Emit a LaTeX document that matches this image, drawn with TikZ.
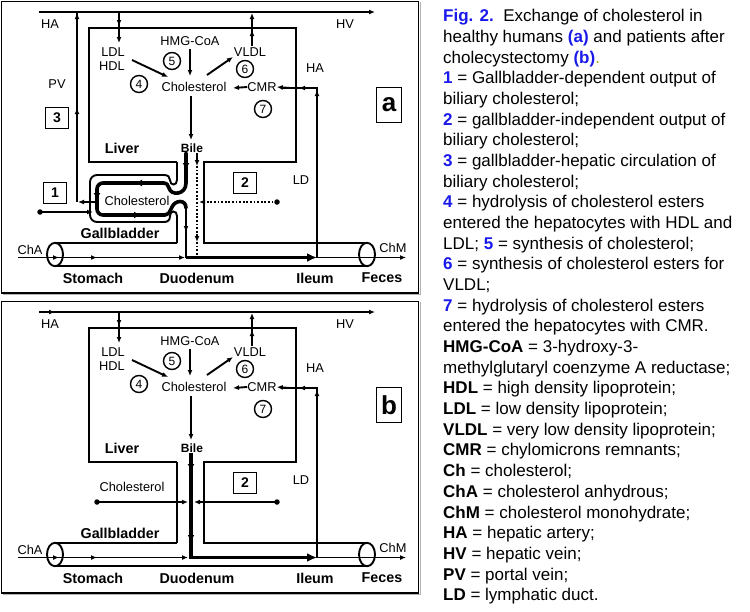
\documentclass[tikz,border=0pt]{standalone}
\usepackage{fontspec}
\setmainfont{Liberation Sans}
\usetikzlibrary{arrows.meta}
\definecolor{capblue}{RGB}{25,25,235}
\definecolor{dotcol}{RGB}{150,170,0}
\newcommand\bl[1]{\textcolor{capblue}{\textbf{#1}}}
\tikzset{
 ln/.style={line width=1.9pt},
 thk/.style={line width=3.6pt, line cap=round},
 ah/.style={-{Latex[length=6pt,width=5pt]}},
 ahT/.style={-{Latex[length=7pt,width=7pt]}},
 bigah/.style={-{Latex[length=10pt,width=9pt]}},
 lbl/.style={font=\fontsize{12.8}{14}\selectfont, inner sep=0pt},
 blbl/.style={font=\fontsize{14.3}{16}\selectfont\bfseries, inner sep=0pt},
 bilelbl/.style={font=\fontsize{12}{13}\selectfont\bfseries, inner sep=0pt},
 circ/.style={circle, draw, line width=1.4pt, minimum size=17pt, inner sep=0pt, font=\fontsize{12}{14}\selectfont},
 numbox/.style={draw, line width=1.4pt, minimum width=23pt, minimum height=21pt, inner sep=0pt, font=\fontsize{14}{16}\selectfont\bfseries},
 panbox/.style={draw, line width=1.4pt, minimum width=25pt, minimum height=35pt, inner sep=0pt, font=\fontsize{26}{28}\selectfont\bfseries},
 captxt/.style={anchor=base west, inner sep=0pt, font=\fontsize{17}{20}\selectfont},
 dotln/.style={line width=1.9pt, dash pattern=on 1.8pt off 1.8pt},
 blob/.style={circle, fill, inner sep=0pt, minimum size=5.5pt},
 panframe/.style={line width=1.5pt},
}
\newcommand\panelcommon{%
 \draw[gray!60, line width=1pt] (420,2) -- (420,294) -- (3,294);
 \draw[panframe] (1.5,1.5) rectangle (418.5,293);
 % hepatic artery / vein
 \node[lbl] (HA) at (50,24) {HA};
 \node[lbl] (HV) at (345,24) {HV};
 \coordinate (hal) at (39,12); \coordinate (har) at (375,12);
 \draw[ln,ah] (hal) -- (har);
 % liver outline
 \draw[ln] (177,162) -- (89,162) -- (89,28) -- (296,28) -- (296,162) -- (204,162) -- (204,243) -- (367,243);
 \draw[ln] (177,243) -- (55,243);
 % labels inside liver
 \node[lbl] (LDL) at (113,52) {LDL};
 \node[lbl] (HDL) at (112,66) {HDL};
 \node[lbl] (HMG) at (190,41) {HMG-CoA};
 \node[lbl] (Chol) at (194,87) {Cholesterol};
 \node[lbl] (VLDL) at (250,52) {VLDL};
 \node[lbl] (CMR) at (262,87) {CMR};
 \node[lbl] (HAr) at (315,68) {HA};
 \node[circ] (c4) at (139,84) {4};
 \node[circ] (c5) at (172,61) {5};
 \node[circ] (c6) at (245,69) {6};
 \node[circ] (c7) at (263,109) {7};
 \node[blbl] (Liver) at (122,148) {Liver};
 \node[bilelbl] (Bile) at (192,148) {Bile};
 \node[blbl] (Gall) at (120,233) {Gallbladder};
 % arrows in liver
 \coordinate (ldlin) at (119,43);
 \draw[ln,ah] (119,12) -- (ldlin);
 \draw[ln,ah] (119,18) -- (119,26);
 \coordinate (vldlout) at (252,46);
 \draw[ln,ah] (vldlout) -- (252,13);
 \draw[ln,ah] (252,38) -- (252,30);
 \draw[ln,ah] (132,60) -- (168,77);
 \draw[ln,ah] (190,49) -- (190,76);
 \draw[ln,ah] (207,75) -- (233,57);
 \draw[ln,ah] (CMR.west) -- (233,88);
 \draw[ln,ah] (191,96) -- (191,140);
 % lymphatic duct
 \node[lbl] (LD) at (301,180) {LD};
 \draw[ln] (317,257.5) -- (317,88) -- (282,88);
 \draw[ln,ah] (317,100) -- (317,90);
 \draw[ln,ah] (310,88) -- (299,88);
 \draw[ln,ah] (290,88) -- (CMR.east);
 \node[numbox] (n2) at (245,183) {2};
 % intestine tube
 \draw[ln] (55,266) -- (367,266);
 \draw[ln] (55,254.5) ellipse [x radius=8, y radius=11.7];
 \draw[ln] (367,254.5) ellipse [x radius=8, y radius=11.7];
 \node[lbl] (ChA) at (30,250) {ChA};
 \node[lbl] (ChM) at (393,248) {ChM};
 \node[blbl] (Stom) at (93,278) {Stomach};
 \node[blbl] (Duod) at (197,278) {Duodenum};
 \node[blbl] (Ileum) at (315,278) {Ileum};
 \node[blbl] (Feces) at (382,278) {Feces};
 \coordinate (chin) at (18,257.5);
 \coordinate (chout) at (406,257.5);
 \draw[ln,ah] (317,257.5) -- (chout);
 \draw[ln,ah] (50,257.5) -- (59,257.5);
 \draw[ln,ah] (88,257.5) -- (97,257.5);
}
\begin{document}
\begin{tikzpicture}[x=1pt,y=-1pt]
\useasboundingbox (0,0) rectangle (750,611);
\fill[white] (0,0) rectangle (750,611);
% ================= panel a
\begin{scope}[name prefix=a-]
 \panelcommon
 \node[panbox] (pa) at (389,105) {a};
 \node[lbl] (PV) at (57,84) {PV};
 \node[numbox] (n3) at (57,118) {3};
 \node[numbox] (n1) at (55,193) {1};
 % portal vein
 \draw[ln] (77,202) -- (77,12);
 \draw[ln,ah] (77,24) -- (77,13);
 \draw[ln,ah] (77,118) -- (77,108);
 \draw[ln,ah] (97,202) -- (78,202);
 \node[blob] (d1) at (40,212) {};
 \draw[ln,ah] (d1.center) -- (93,212);
 % gallbladder outer contour
 \draw[ln] (177,162) -- (177,180) .. controls (177,186) and (170,186) .. (170,180) .. controls (170,177) and (168,175) .. (164,175);
 \draw[ln, rounded corners=7pt] (165,175) -- (90,175) -- (90,222) -- (165,222);
 \draw[ln] (164,222) .. controls (168,222) and (170,220) .. (170,216) .. controls (170,210) and (177,210) .. (177,216) -- (177,243);
 \node[lbl] (GCh) at (137,201) {Cholesterol};
 % inner thick loop
 \draw[thk] (186,153) -- (186,183) .. controls (186,195) and (171,196) .. (169,188) .. controls (168,185) and (167,183) .. (163,183);
 \draw[thk, rounded corners=6pt] (164,183) -- (97,183) -- (97,215) -- (165,215);
 \draw[thk] (164,215) .. controls (169,215) and (170,211) .. (172,207) .. controls (175,200) and (186,199) .. (186,208);
 \draw[ln] (186,207) -- (186,257.5);
 \draw[thk,ahT] (186,160) -- (186,170);
 \draw[thk,ahT] (146,183) -- (135,183);
 \draw[thk,ahT] (97,190) -- (97,200);
 \draw[thk,ahT] (130,215) -- (141,215);
 \draw[ln,ah] (186,222) -- (186,232);
 % bile dotted (gallbladder-independent)
 \draw[ln,ah] (197,153) -- (197,166);
 \draw[dotln,ah] (197,166) -- (197,242);
 \draw[dotln] (197,242) -- (197,257.5);
 \node[blob] (d2) at (277,202) {};
 \draw[dotln,ah] (d2.center) -- (199,202);
 % main stream
 \draw[ln,ah] (chin) -- (185,257.5);
 \draw[thk,line cap=butt,bigah] (186,257.5) -- (317,257.5);
\end{scope}
% ================= panel b
\begin{scope}[shift={(0,300)}, name prefix=b-]
 \panelcommon
 \node[panbox] (pb) at (389,105) {b};
 \draw[ln,ah] (45,12) -- (55,12);
 \draw[ln] (177,162) -- (177,243);
 \node[lbl] (GCh) at (132,187) {Cholesterol};
 \draw[thk,line cap=butt] (191,153) -- (191,257.5);
 \draw[thk,ahT] (191,160) -- (191,171);
 \draw[thk,ahT] (191,231) -- (191,242);
 \node[blob] (d3) at (97,202) {};
 \draw[ln,ah] (d3.center) -- (188,202);
 \node[blob] (d4) at (277,202) {};
 \draw[ln,ah] (d4.center) -- (194,202);
 \draw[ln,ah] (chin) -- (188,257.5);
 \draw[thk,line cap=butt,bigah] (189,257.5) -- (317,257.5);
\end{scope}
% ================= caption
\foreach \capline [count=\i from 0] in {
 {\bl{Fig. 2.}\ \ Exchange of cholesterol in},
 {healthy humans \bl{(a)} and patients after},
 {cholecystectomy \bl{(b)}\textcolor{dotcol}{.}},
 {\bl{1} = Gallbladder-dependent output of},
 {biliary cholesterol;},
 {\bl{2} = gallbladder-independent output of},
 {biliary cholesterol;},
 {\bl{3} = gallbladder-hepatic circulation of},
 {biliary cholesterol;},
 {\bl{4} = hydrolysis of cholesterol esters},
 {entered the hepatocytes with HDL and},
 {LDL; \bl{5} = synthesis of cholesterol;},
 {\bl{6} = synthesis of cholesterol esters for},
 {VLDL;},
 {\bl{7} = hydrolysis of cholesterol esters},
 {entered the hepatocytes with CMR.},
 {\textbf{HMG-CoA} = 3-hydroxy-3-},
 {methylglutaryl coenzyme A reductase;},
 {\textbf{HDL} = high density lipoprotein;},
 {\textbf{LDL} = low density lipoprotein;},
 {\textbf{VLDL} = very low density lipoprotein;},
 {\textbf{CMR} = chylomicrons remnants;},
 {\textbf{Ch} = cholesterol;},
 {\textbf{ChA} = cholesterol anhydrous;},
 {\textbf{ChM} = cholesterol monohydrate;},
 {\textbf{HA} = hepatic artery;},
 {\textbf{HV} = hepatic vein;},
 {\textbf{PV} = portal vein;},
 {\textbf{LD} = lymphatic duct.}}
 \node[captxt] (cap\i) at (443,21.7+20.68*\i) {\capline};
\end{tikzpicture}
\end{document}
